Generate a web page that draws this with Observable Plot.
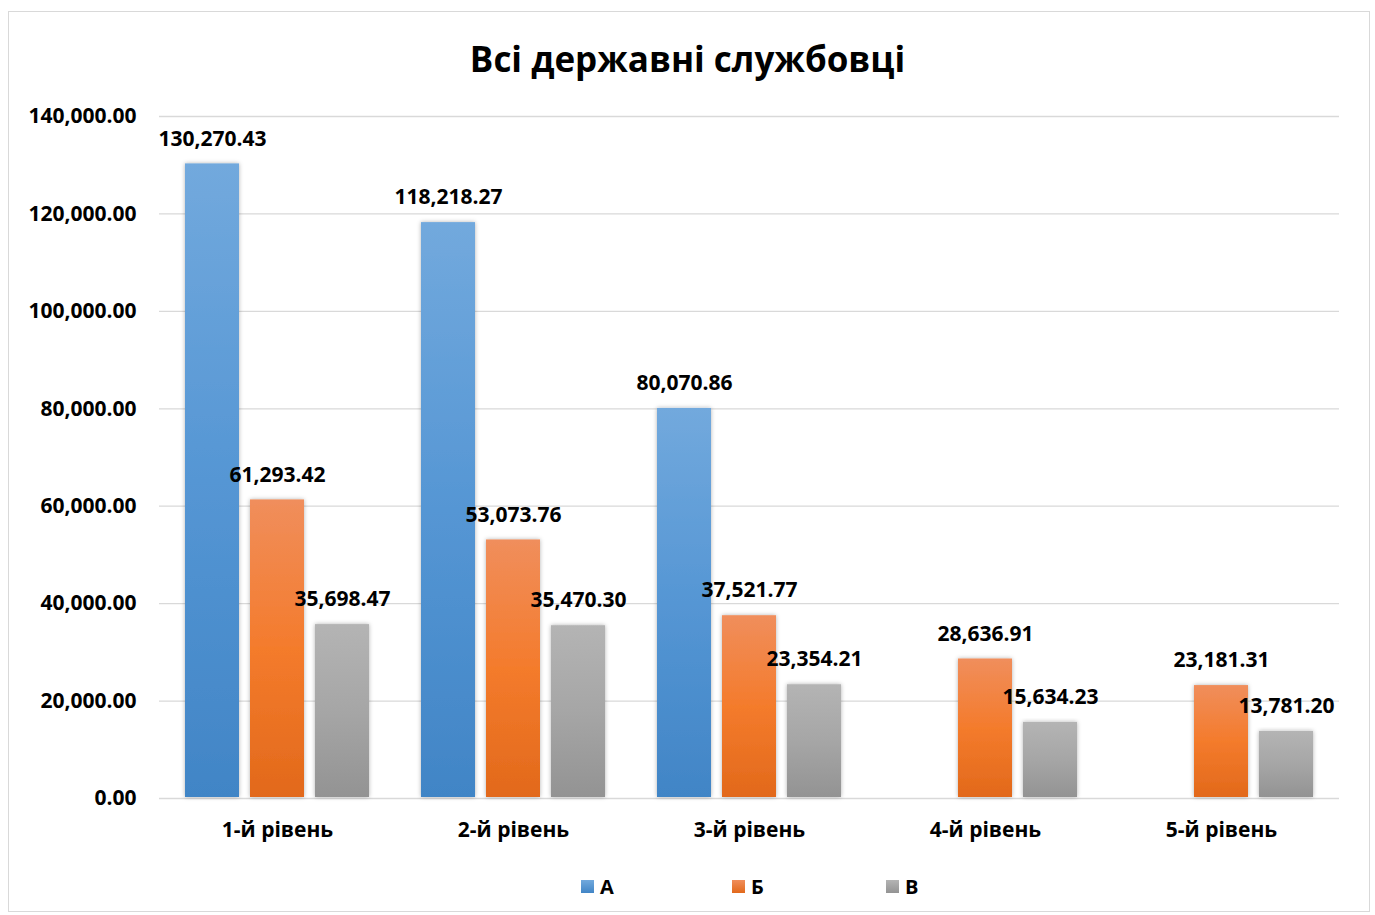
<!DOCTYPE html>
<html>
<head>
<meta charset="utf-8">
<script src="https://cdn.jsdelivr.net/npm/d3@7"></script>
<script src="https://cdn.jsdelivr.net/npm/@observablehq/plot@0.6"></script>
<style>
  html, body { margin: 0; padding: 0; background: #fff; }
  body { position: relative; width: 1375px; height: 915px; overflow: hidden; font-family: "Open Sans", sans-serif; }
  #frame { position: absolute; left: 8px; top: 11px; width: 1362px; height: 901px; border: 1px solid #d9d9d9; box-sizing: border-box; }
  #title { position: absolute; left: 0; top: 34px; width: 1375px; text-align: center; font-size: 35px; font-weight: 700; color: #000; line-height: 50px; }
  #chart { position: absolute; left: 0; top: 100px; }
  #legend { position: absolute; top: 872px; left: 0; width: 1375px; height: 28px; font-size: 20px; font-weight: 700; }
  .item { position: absolute; top: 0; display: flex; align-items: center; height: 28px; }
  .swatch { width: 13px; height: 13px; margin-right: 6px; }
</style>
</head>
<body>
<div id="frame"></div>
<div id="title">Всі державні службовці</div>
<div id="chart"></div>
<div id="legend"></div>
<script>
const levels = ["1-й рівень", "2-й рівень", "3-й рівень", "4-й рівень", "5-й рівень"];
const series = ["А", "Б", "В"];
const valuesA = [130270.43, 118218.27, 80070.86, null, null];
const valuesB = [61293.42, 53073.76, 37521.77, 28636.91, 23181.31];
const valuesV = [35698.47, 35470.30, 23354.21, 15634.23, 13781.20];
const yTicks = [0, 20000, 40000, 60000, 80000, 100000, 120000, 140000];

const gradients = {
  "А": ["#72a9dd", "#5596d4", "#4185c6"],
  "Б": ["#f08e5c", "#f47b2c", "#e2691b"],
  "В": ["#b4b4b4", "#a6a6a6", "#939393"]
};
const gradId = {"А": "gA", "Б": "gB", "В": "gV"};

const cols = [valuesA, valuesB, valuesV];
const data = [];
levels.forEach((lv, i) => {
  series.forEach((s, j) => {
    const v = cols[j][i];
    if (v != null) data.push({level: lv, series: s, value: v});
  });
});

const fmt = d3.format(",.2f");

const chart = Plot.plot({
  width: 1375,
  height: 760,
  marginLeft: 158,
  marginRight: 35,
  marginTop: 16,
  marginBottom: 62,
  style: {fontFamily: "'Open Sans', sans-serif", fontSize: "21px", fontWeight: 700, color: "#000", background: "transparent", overflow: "visible"},
  fx: {domain: levels, padding: 0, label: null},
  x: {domain: series, paddingInner: 0.175, paddingOuter: 0.39, axis: null},
  y: {domain: [0, 140000], ticks: yTicks, tickFormat: fmt, label: null},
  marks: [
    Plot.ruleY(yTicks, {stroke: "#d9d9d9", strokeWidth: 1.3, strokeOpacity: 1}),
    Plot.axisY({ticks: yTicks, tickFormat: fmt, tickSize: 0, tickPadding: 23, label: null, fontWeight: 700, fontSize: 21}),
    Plot.axisFx({anchor: "bottom", tickSize: 0, tickPadding: 24, label: null, fontWeight: 700, fontSize: 21}),
    Plot.barY(data, {fx: "level", x: "series", y: "value", fill: d => `url(#${gradId[d.series]})`, insetBottom: 1}),
    Plot.text(data, {fx: "level", x: "series", y: "value", text: d => fmt(d.value), dy: -25, lineAnchor: "middle", textAnchor: "middle", fill: "#000", fontWeight: 700, fontSize: 21})
  ]
});

// gradient defs
const svg = d3.select(chart);
const defs = svg.insert("defs", ":first-child");
series.forEach(s => {
  const g = defs.append("linearGradient").attr("id", gradId[s]).attr("x1", 0).attr("y1", 0).attr("x2", 0).attr("y2", 1);
  const c = gradients[s];
  g.append("stop").attr("offset", "0%").attr("stop-color", c[0]);
  g.append("stop").attr("offset", "50%").attr("stop-color", c[1]);
  g.append("stop").attr("offset", "100%").attr("stop-color", c[2]);
});
const f = defs.append("filter").attr("id", "shadow").attr("x", "-20%").attr("y", "-5%").attr("width", "140%").attr("height", "110%");
f.append("feDropShadow").attr("dx", 0).attr("dy", 0).attr("stdDeviation", 2).attr("flood-color", "#000").attr("flood-opacity", 0.3);
svg.selectAll("g[aria-label='bar'] rect").attr("filter", "url(#shadow)");

document.getElementById("chart").appendChild(chart);

// legend
const legend = document.getElementById("legend");
const legendX = [581, 732, 886];
series.forEach((s, i) => {
  const item = document.createElement("div");
  item.className = "item";
  item.style.left = legendX[i] + "px";
  const sw = document.createElement("div");
  sw.className = "swatch";
  const c = gradients[s];
  sw.style.background = `linear-gradient(${c[0]}, ${c[2]})`;
  const t = document.createElement("span");
  t.textContent = s;
  item.appendChild(sw);
  item.appendChild(t);
  legend.appendChild(item);
});
</script>
</body>
</html>
